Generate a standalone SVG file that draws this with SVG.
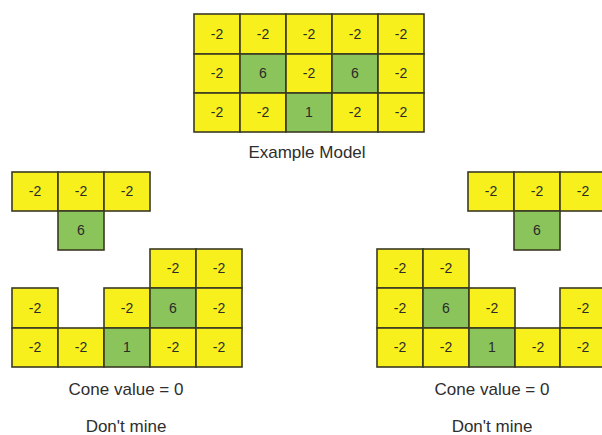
<svg xmlns="http://www.w3.org/2000/svg" width="602" height="435" viewBox="0 0 602 435">
<style>
.y{fill:#F8F01C;stroke:#3A3A22;stroke-width:1.6}
.g{fill:#8CC45C;stroke:#3A3A22;stroke-width:1.6}
.t{font-family:"Liberation Sans",Arial,sans-serif;font-size:14px;fill:#2A2A2A;text-anchor:middle;dominant-baseline:central}
.l{font-family:"Liberation Sans",Arial,sans-serif;font-size:17px;fill:#2E2E2E;text-anchor:middle}
</style>
<rect width="602" height="435" fill="#FFFFFF"/>
<g id="example-model">
<rect class="y" x="194" y="14" width="46" height="40"/><text class="t" x="217" y="34">-2</text>
<rect class="y" x="240" y="14" width="46" height="40"/><text class="t" x="263" y="34">-2</text>
<rect class="y" x="286" y="14" width="46" height="40"/><text class="t" x="309" y="34">-2</text>
<rect class="y" x="332" y="14" width="46" height="40"/><text class="t" x="355" y="34">-2</text>
<rect class="y" x="378" y="14" width="46" height="40"/><text class="t" x="401" y="34">-2</text>
<rect class="y" x="194" y="54" width="46" height="39"/><text class="t" x="217" y="73">-2</text>
<rect class="g" x="240" y="54" width="46" height="39"/><text class="t" x="263" y="73">6</text>
<rect class="y" x="286" y="54" width="46" height="39"/><text class="t" x="309" y="73">-2</text>
<rect class="g" x="332" y="54" width="46" height="39"/><text class="t" x="355" y="73">6</text>
<rect class="y" x="378" y="54" width="46" height="39"/><text class="t" x="401" y="73">-2</text>
<rect class="y" x="194" y="93" width="46" height="39"/><text class="t" x="217" y="112">-2</text>
<rect class="y" x="240" y="93" width="46" height="39"/><text class="t" x="263" y="112">-2</text>
<rect class="g" x="286" y="93" width="46" height="39"/><text class="t" x="309" y="112">1</text>
<rect class="y" x="332" y="93" width="46" height="39"/><text class="t" x="355" y="112">-2</text>
<rect class="y" x="378" y="93" width="46" height="39"/><text class="t" x="401" y="112">-2</text>
<text class="l" x="307" y="158">Example Model</text>
</g>
<g id="left-cone">
<rect class="y" x="12" y="172" width="46" height="39"/><text class="t" x="35" y="191">-2</text>
<rect class="y" x="58" y="172" width="46" height="39"/><text class="t" x="81" y="191">-2</text>
<rect class="y" x="104" y="172" width="46" height="39"/><text class="t" x="127" y="191">-2</text>
<rect class="g" x="58" y="211" width="46" height="39"/><text class="t" x="81" y="230">6</text>
</g>
<g id="left-model">
<rect class="y" x="150" y="249" width="46" height="39"/><text class="t" x="173" y="268">-2</text>
<rect class="y" x="196" y="249" width="46" height="39"/><text class="t" x="219" y="268">-2</text>
<rect class="y" x="12" y="288" width="46" height="40"/><text class="t" x="35" y="308">-2</text>
<rect class="y" x="104" y="288" width="46" height="40"/><text class="t" x="127" y="308">-2</text>
<rect class="g" x="150" y="288" width="46" height="40"/><text class="t" x="173" y="308">6</text>
<rect class="y" x="196" y="288" width="46" height="40"/><text class="t" x="219" y="308">-2</text>
<rect class="y" x="12" y="328" width="46" height="39"/><text class="t" x="35" y="347">-2</text>
<rect class="y" x="58" y="328" width="46" height="39"/><text class="t" x="81" y="347">-2</text>
<rect class="g" x="104" y="328" width="46" height="39"/><text class="t" x="127" y="347">1</text>
<rect class="y" x="150" y="328" width="46" height="39"/><text class="t" x="173" y="347">-2</text>
<rect class="y" x="196" y="328" width="46" height="39"/><text class="t" x="219" y="347">-2</text>
<text class="l" x="126" y="395">Cone value = 0</text>
<text class="l" x="126" y="432">Don't mine</text>
</g>
<g id="right-cone">
<rect class="y" x="468" y="172" width="46" height="39"/><text class="t" x="491" y="191">-2</text>
<rect class="y" x="514" y="172" width="46" height="39"/><text class="t" x="537" y="191">-2</text>
<rect class="y" x="560" y="172" width="46" height="39"/><text class="t" x="583" y="191">-2</text>
<rect class="g" x="514" y="211" width="46" height="39"/><text class="t" x="537" y="230">6</text>
</g>
<g id="right-model">
<rect class="y" x="377" y="249" width="46" height="39"/><text class="t" x="400" y="268">-2</text>
<rect class="y" x="423" y="249" width="46" height="39"/><text class="t" x="446" y="268">-2</text>
<rect class="y" x="377" y="288" width="46" height="40"/><text class="t" x="400" y="308">-2</text>
<rect class="g" x="423" y="288" width="46" height="40"/><text class="t" x="446" y="308">6</text>
<rect class="y" x="469" y="288" width="46" height="40"/><text class="t" x="492" y="308">-2</text>
<rect class="y" x="560" y="288" width="46" height="40"/><text class="t" x="583" y="308">-2</text>
<rect class="y" x="377" y="328" width="46" height="39"/><text class="t" x="400" y="347">-2</text>
<rect class="y" x="423" y="328" width="46" height="39"/><text class="t" x="446" y="347">-2</text>
<rect class="g" x="469" y="328" width="46" height="39"/><text class="t" x="492" y="347">1</text>
<rect class="y" x="515" y="328" width="45" height="39"/><text class="t" x="538" y="347">-2</text>
<rect class="y" x="560" y="328" width="46" height="39"/><text class="t" x="583" y="347">-2</text>
<text class="l" x="492" y="395">Cone value = 0</text>
<text class="l" x="492" y="432">Don't mine</text>
</g>
<g id="connectors"/>
</svg>
